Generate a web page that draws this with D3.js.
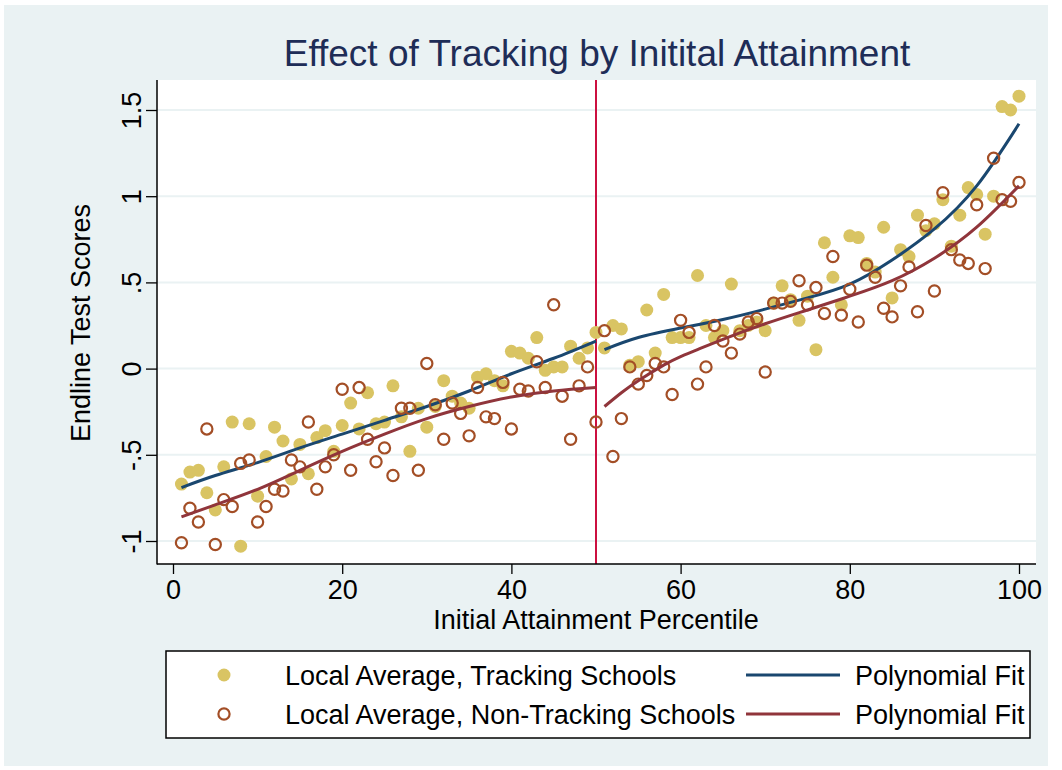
<!DOCTYPE html>
<html>
<head>
<meta charset="utf-8">
<script src="https://d3js.org/d3.v7.min.js"></script>
<style>
  html, body { margin: 0; padding: 0; background: #ffffff; }
  svg { display: block; }
  text { font-family: "Liberation Sans", Arial, Helvetica, sans-serif; }
</style>
</head>
<body>
<svg id="chart" width="1062" height="770"></svg>
<script>
// ---------------- data ----------------
const percentiles = [
  1,2,3,4,5,6,7,8,9,10,11,12,13,14,15,16,17,18,19,20,
  21,22,23,24,25,26,27,28,29,30,31,32,33,34,35,36,37,38,39,40,
  41,42,43,44,45,46,47,48,49,50,51,52,53,54,55,56,57,58,59,60,
  61,62,63,64,65,66,67,68,69,70,71,72,73,74,75,76,77,78,79,80,
  81,82,83,84,85,86,87,88,89,90,91,92,93,94,95,96,97,98,99,100
];
const trackingScores = [
  -0.67,-0.60,-0.59,-0.72,-0.82,-0.57,-0.31,-1.03,-0.32,-0.74,
  -0.51,-0.34,-0.42,-0.64,-0.44,-0.61,-0.40,-0.36,-0.48,-0.33,
  -0.20,-0.35,-0.14,-0.32,-0.31,-0.10,-0.28,-0.48,-0.23,-0.34,
  -0.22,-0.07,-0.16,-0.20,-0.23,-0.05,-0.03,-0.07,-0.10,0.10,
  0.09,0.06,0.18,-0.01,0.01,0.01,0.13,0.06,0.12,0.21,
  0.12,0.25,0.23,0.02,0.04,0.34,0.09,0.43,0.18,0.18,
  0.18,0.54,0.25,0.18,0.22,0.49,0.22,0.25,0.27,0.22,
  0.38,0.48,0.40,0.28,0.42,0.11,0.73,0.53,0.37,0.77,
  0.76,0.61,0.56,0.82,0.41,0.69,0.65,0.89,0.80,0.84,
  0.98,0.71,0.89,1.05,1.01,0.78,1.00,1.52,1.50,1.58
];
const nonTrackingScores = [
  -1.01,-0.81,-0.89,-0.35,-1.02,-0.76,-0.80,-0.55,-0.53,-0.89,
  -0.80,-0.70,-0.71,-0.53,-0.57,-0.31,-0.70,-0.57,-0.50,-0.12,
  -0.59,-0.11,-0.41,-0.54,-0.46,-0.62,-0.23,-0.23,-0.59,0.03,
  -0.21,-0.41,-0.20,-0.26,-0.39,-0.11,-0.28,-0.29,-0.08,-0.35,
  -0.12,-0.13,0.04,-0.11,0.37,-0.16,-0.41,-0.10,0.01,-0.31,
  0.22,-0.51,-0.29,0.01,-0.09,-0.04,0.03,0.01,-0.15,0.28,
  0.21,-0.09,0.01,0.25,0.16,0.09,0.20,0.27,0.29,-0.02,
  0.38,0.38,0.39,0.51,0.37,0.47,0.32,0.65,0.31,0.46,
  0.27,0.60,0.53,0.35,0.30,0.48,0.59,0.33,0.83,0.45,
  1.02,0.69,0.63,0.61,0.95,0.58,1.22,0.98,0.97,1.08
];
// polynomial fit curves (separate fits each side of 50)
const fitLeftX  = [1,5,10,15,20,25,30,35,40,45,50];
const fitTrackLeftY = [-0.69,-0.62,-0.545,-0.46,-0.38,-0.30,-0.22,-0.13,-0.03,0.06,0.16];
const fitNonLeftY   = [-0.86,-0.79,-0.70,-0.59,-0.48,-0.38,-0.29,-0.22,-0.165,-0.13,-0.11];
const fitTrackRightX = [51,55,60,65,70,75,80,85,90,95,100];
const fitTrackRightY = [0.11,0.18,0.235,0.285,0.345,0.41,0.49,0.63,0.81,1.06,1.42];
const fitNonRightX = [51,53,55,58,60,62,65,70,75,80,85,90,95,100];
const fitNonRightY = [-0.22,-0.14,-0.07,0.02,0.07,0.11,0.17,0.26,0.34,0.42,0.51,0.64,0.82,1.06];
const cutoff = 50;

const xTicks = [0,20,40,60,80,100];
const yTicks = [-1,-0.5,0,0.5,1,1.5];
const yTickLabels = ["-1","-.5","0",".5","1","1.5"];

const titleText = "Effect of Tracking by Initital Attainment";
const xTitle = "Initial Attainment Percentile";
const yTitle = "Endline Test Scores";
const legendLabels = ["Local Average, Tracking Schools","Polynomial Fit",
                      "Local Average, Non-Tracking Schools","Polynomial Fit"];

// ---------------- styles ----------------
const C = {
  bg: "#EAF2F3", grid: "#EAF2F3",
  gold: "#D9C463", sienna: "#A34E26",
  navy: "#1A476F", maroon: "#90353B",
  vline: "#CC1040", title: "#1E2D57"
};

const svg = d3.select("#chart");
const plot = {left:157, right:1036, top:80, bottom:564};

svg.append("rect").attr("x",4).attr("y",5).attr("width",1044).attr("height",761).attr("fill",C.bg);
svg.append("rect").attr("x",plot.left).attr("y",plot.top)
   .attr("width",plot.right-plot.left).attr("height",plot.bottom-plot.top).attr("fill","#fff");

const x = d3.scaleLinear().domain([0,100]).range([173,1019]);
const y = d3.scaleLinear().domain([-1,1.5]).range([541,110]);

// gridlines
svg.append("g").selectAll("line").data(yTicks).join("line")
  .attr("x1",plot.left).attr("x2",plot.right)
  .attr("y1",d=>y(d)).attr("y2",d=>y(d))
  .attr("stroke",C.grid).attr("stroke-width",2);

// vertical cutoff line
svg.append("line").attr("x1",x(cutoff)).attr("x2",x(cutoff))
  .attr("y1",plot.top).attr("y2",plot.bottom)
  .attr("stroke",C.vline).attr("stroke-width",2);

const lineGen = d3.line().x(d=>x(d[0])).y(d=>y(d[1])).curve(d3.curveNatural);
const zip = (a,b)=>a.map((v,i)=>[v,b[i]]);

// tracking scatter
svg.append("g").selectAll("circle").data(zip(percentiles,trackingScores)).join("circle")
  .attr("cx",d=>x(d[0])).attr("cy",d=>y(d[1])).attr("r",6.5).attr("fill",C.gold);
// blue fit
[zip(fitLeftX,fitTrackLeftY), zip(fitTrackRightX,fitTrackRightY)].forEach(seg=>{
  svg.append("path").attr("d",lineGen(seg)).attr("fill","none")
     .attr("stroke",C.navy).attr("stroke-width",3);
});
// non-tracking scatter
svg.append("g").selectAll("circle").data(zip(percentiles,nonTrackingScores)).join("circle")
  .attr("cx",d=>x(d[0])).attr("cy",d=>y(d[1])).attr("r",5.6)
  .attr("fill","none").attr("stroke",C.sienna).attr("stroke-width",2.2);
// red fit
[zip(fitLeftX,fitNonLeftY), zip(fitNonRightX,fitNonRightY)].forEach(seg=>{
  svg.append("path").attr("d",lineGen(seg)).attr("fill","none")
     .attr("stroke",C.maroon).attr("stroke-width",3);
});

// axes
const xAxis = svg.append("g").attr("transform",`translate(0,${plot.bottom})`)
  .call(d3.axisBottom(x).tickValues(xTicks).tickSize(10).tickSizeOuter(0).tickPadding(6));
xAxis.select(".domain").remove();
xAxis.selectAll(".tick line").attr("stroke","#000").attr("stroke-width",1.3);
xAxis.selectAll(".tick text").attr("font-size",27).attr("fill","#000")
  .attr("font-family","Liberation Sans, Arial, sans-serif");

const yAxis = svg.append("g").attr("transform",`translate(${plot.left},0)`)
  .call(d3.axisLeft(y).tickValues(yTicks).tickFormat((d,i)=>yTickLabels[i]).tickSize(11).tickSizeOuter(0));
yAxis.select(".domain").remove();
yAxis.selectAll(".tick line").attr("stroke","#000").attr("stroke-width",1.3);
yAxis.selectAll(".tick text")
  .attr("font-size",27).attr("fill","#000")
  .attr("font-family","Liberation Sans, Arial, sans-serif")
  .attr("x",0).attr("y",-16).attr("dy",null)
  .attr("text-anchor","middle").attr("transform","rotate(-90)");

// axis lines
svg.append("line").attr("x1",plot.left).attr("x2",plot.left).attr("y1",plot.top).attr("y2",plot.bottom+0.5)
  .attr("stroke","#000").attr("stroke-width",1.5);
svg.append("line").attr("x1",plot.left).attr("x2",plot.right).attr("y1",plot.bottom).attr("y2",plot.bottom)
  .attr("stroke","#000").attr("stroke-width",1.5);

// titles
svg.append("text").attr("x",597).attr("y",66).attr("text-anchor","middle")
  .attr("font-size",37).attr("fill",C.title).text(titleText);
svg.append("text").attr("x",596).attr("y",629).attr("text-anchor","middle")
  .attr("font-size",27).attr("fill","#000").text(xTitle);
svg.append("text").attr("transform","translate(90,323) rotate(-90)").attr("text-anchor","middle")
  .attr("font-size",27).attr("fill","#000").text(yTitle);

// legend
const lg = svg.append("g");
lg.append("rect").attr("x",166).attr("y",651).attr("width",864).attr("height",87)
  .attr("fill","#fff").attr("stroke","#000").attr("stroke-width",1.5);
const rowY = [675,714];
lg.append("circle").attr("cx",224).attr("cy",rowY[0]).attr("r",6.5).attr("fill",C.gold);
lg.append("circle").attr("cx",224).attr("cy",rowY[1]).attr("r",5.6).attr("fill","none")
  .attr("stroke",C.sienna).attr("stroke-width",2.2);
lg.append("line").attr("x1",746).attr("x2",840).attr("y1",rowY[0]).attr("y2",rowY[0])
  .attr("stroke",C.navy).attr("stroke-width",3);
lg.append("line").attr("x1",746).attr("x2",840).attr("y1",rowY[1]).attr("y2",rowY[1])
  .attr("stroke",C.maroon).attr("stroke-width",3);
[[285,rowY[0],0],[855,rowY[0],1],[285,rowY[1],2],[855,rowY[1],3]].forEach(([tx,ty,i])=>{
  lg.append("text").attr("x",tx).attr("y",ty+10).attr("font-size",27).attr("fill","#000").text(legendLabels[i]);
});
</script>
</body>
</html>
